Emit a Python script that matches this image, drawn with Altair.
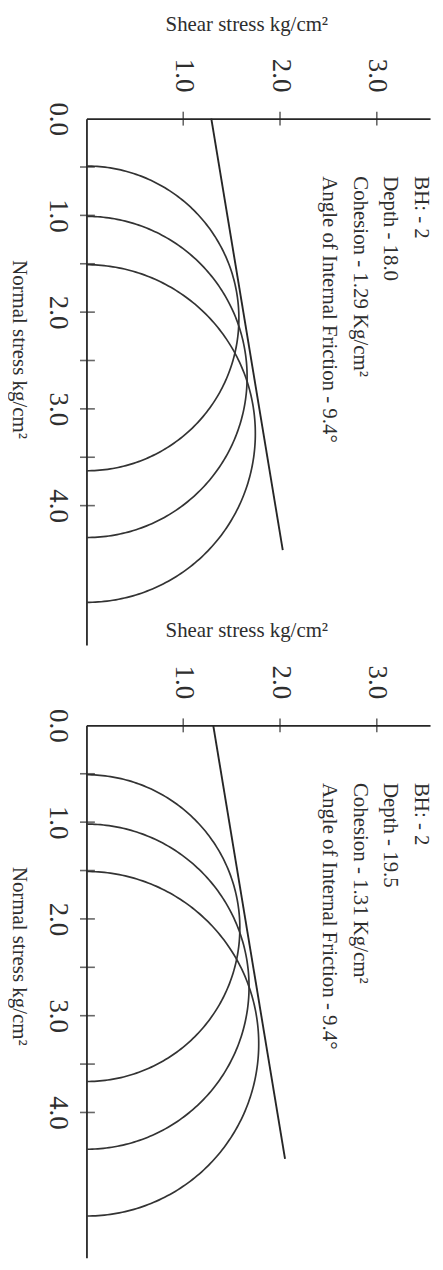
import altair as alt
import pandas as pd

# ---- data -----------------------------------------------------------------
shear_tick_values = [1.0, 2.0, 3.0]
normal_label_values = [0.0, 1.0, 2.0, 3.0, 4.0]
normal_tick_values = [0.5, 1.0, 1.5, 2.0, 2.5, 3.0, 3.5, 4.0]

# panel 1 (Depth 18.0)
p1_sigma3 = [0.49, 1.01, 1.51]
p1_sigma1 = [3.64, 4.33, 5.00]
p1_cohesion = 1.29
p1_phi = 9.4
p1_env_normal = [0.0, 4.46]
p1_lines = ["BH: - 2", "Depth - 18.0", "Cohesion - 1.29 Kg/cm²",
            "Angle of Internal Friction - 9.4°"]

# panel 2 (Depth 19.5)
p2_sigma3 = [0.51, 1.02, 1.51]
p2_sigma1 = [3.68, 4.38, 5.07]
p2_cohesion = 1.31
p2_phi = 9.4
p2_env_normal = [0.0, 4.48]
p2_lines = ["BH: - 2", "Depth - 19.5", "Cohesion - 1.31 Kg/cm²",
            "Angle of Internal Friction - 9.4°"]

# ---- style ----------------------------------------------------------------
FONT = "Liberation Serif"
INK = "#262626"
TXT = "#2e2e2e"
PX = 97.4            # pixels per stress unit
XMAX = 3.55
W = round(XMAX * PX)


def panel(s3, s1, c, phi, env_normal, lines, ymax):
    H = round(ymax * PX)
    xs = alt.Scale(domain=[0, XMAX], nice=False, zero=False)
    ys = alt.Scale(domain=[0, ymax], reverse=True, nice=False, zero=False)
    x_axis = alt.Axis(
        orient="top", values=shear_tick_values, format=".1f", grid=False,
        ticks=False, tickSize=0, labelAngle=90, labelAlign="right",
        labelBaseline="middle", labelPadding=27, labelFont=FONT,
        labelFontSize=27, labelColor=TXT, labelFlush=False, labelOverlap=False,
        domainColor=INK, domainWidth=1.8,
        title="Shear stress kg/cm²", titleFont=FONT, titleFontSize=21,
        titleFontWeight="normal", titleColor=TXT, titleAngle=0,
        titleAlign="center", titleBaseline="alphabetic", titleX=161, titleY=-89,
    )
    y_axis = alt.Axis(
        orient="left", values=normal_label_values, format=".1f", grid=False,
        ticks=False, tickSize=0, labelAngle=90, labelAlign="center",
        labelBaseline="top", labelPadding=16, labelFont=FONT,
        labelFontSize=27, labelColor=TXT, labelFlush=False, labelOverlap=False,
        domainColor=INK, domainWidth=1.8,
        title="Normal stress kg/cm²", titleFont=FONT, titleFontSize=21,
        titleFontWeight="normal", titleColor=TXT, titleAngle=90,
        titleAlign="center", titleBaseline="middle", titleX=-68, titleY=232,
    )

    circ_df = pd.DataFrame({"id": list(range(len(s3))), "s3": s3, "s1": s1})
    circles = (
        alt.Chart(circ_df)
        .transform_calculate(t="sequence(0, 181)")
        .transform_flatten(["t"])
        .transform_calculate(cc="(datum.s1 + datum.s3) / 2")
        .transform_calculate(rr="(datum.s1 - datum.s3) / 2")
        .transform_calculate(normal="datum.cc - datum.rr * cos(datum.t * PI / 180)")
        .transform_calculate(shear="datum.rr * sin(datum.t * PI / 180)")
        .mark_line(color="#333333", strokeWidth=1.7)
        .encode(
            x=alt.X("shear:Q", scale=xs, axis=x_axis),
            y=alt.Y("normal:Q", scale=ys, axis=y_axis),
            detail="id:N",
            order="t:Q",
        )
    )

    env_df = pd.DataFrame({"normal": env_normal,
                           "c": [c] * len(env_normal),
                           "phi": [phi] * len(env_normal)})
    envelope = (
        alt.Chart(env_df)
        .transform_calculate(shear="datum.c + tan(datum.phi * PI / 180) * datum.normal")
        .mark_line(color=INK, strokeWidth=1.9)
        .encode(
            x=alt.X("shear:Q", scale=xs, axis=x_axis),
            y=alt.Y("normal:Q", scale=ys, axis=y_axis),
            order="normal:Q",
        )
    )

    xt_df = pd.DataFrame({"shear": shear_tick_values,
                          "normal": [0.0] * len(shear_tick_values)})
    xticks = alt.Chart(xt_df).mark_tick(
        orient="vertical", size=14, thickness=1.6, color=INK
    ).encode(
        x=alt.X("shear:Q", scale=xs, axis=x_axis),
        y=alt.Y("normal:Q", scale=ys, axis=y_axis),
    )

    yt_df = pd.DataFrame({"normal": normal_tick_values,
                          "shear": [0.0] * len(normal_tick_values)})
    yticks = alt.Chart(yt_df).mark_tick(
        orient="horizontal", size=15, thickness=1.6, color=INK, xOffset=1
    ).encode(
        x=alt.X("shear:Q", scale=xs, axis=x_axis),
        y=alt.Y("normal:Q", scale=ys, axis=y_axis),
    )

    txt_df = pd.DataFrame({"label": ["\n".join(lines)]})
    note = alt.Chart(txt_df).mark_text(
        angle=90, align="left", baseline="alphabetic", lineBreak="\n",
        lineHeight=31, font=FONT, fontSize=21, color=TXT,
    ).encode(x=alt.value(331), y=alt.value(58), text="label:N")

    return alt.layer(circles, envelope, xticks, yticks, note).properties(
        width=W, height=H
    )


p1 = panel(p1_sigma3, p1_sigma1, p1_cohesion, p1_phi, p1_env_normal, p1_lines, 5.44)
p2 = panel(p2_sigma3, p2_sigma1, p2_cohesion, p2_phi, p2_env_normal, p2_lines, 5.5)

chart = (
    alt.vconcat(p1, p2, spacing=81, bounds="flush")
    .properties(padding={"left": 1, "top": 1, "right": 2, "bottom": 2},
                background="white")
    .configure_view(stroke=None)
)

chart.save("out.html", embed_options={"renderer": "svg", "actions": False})
